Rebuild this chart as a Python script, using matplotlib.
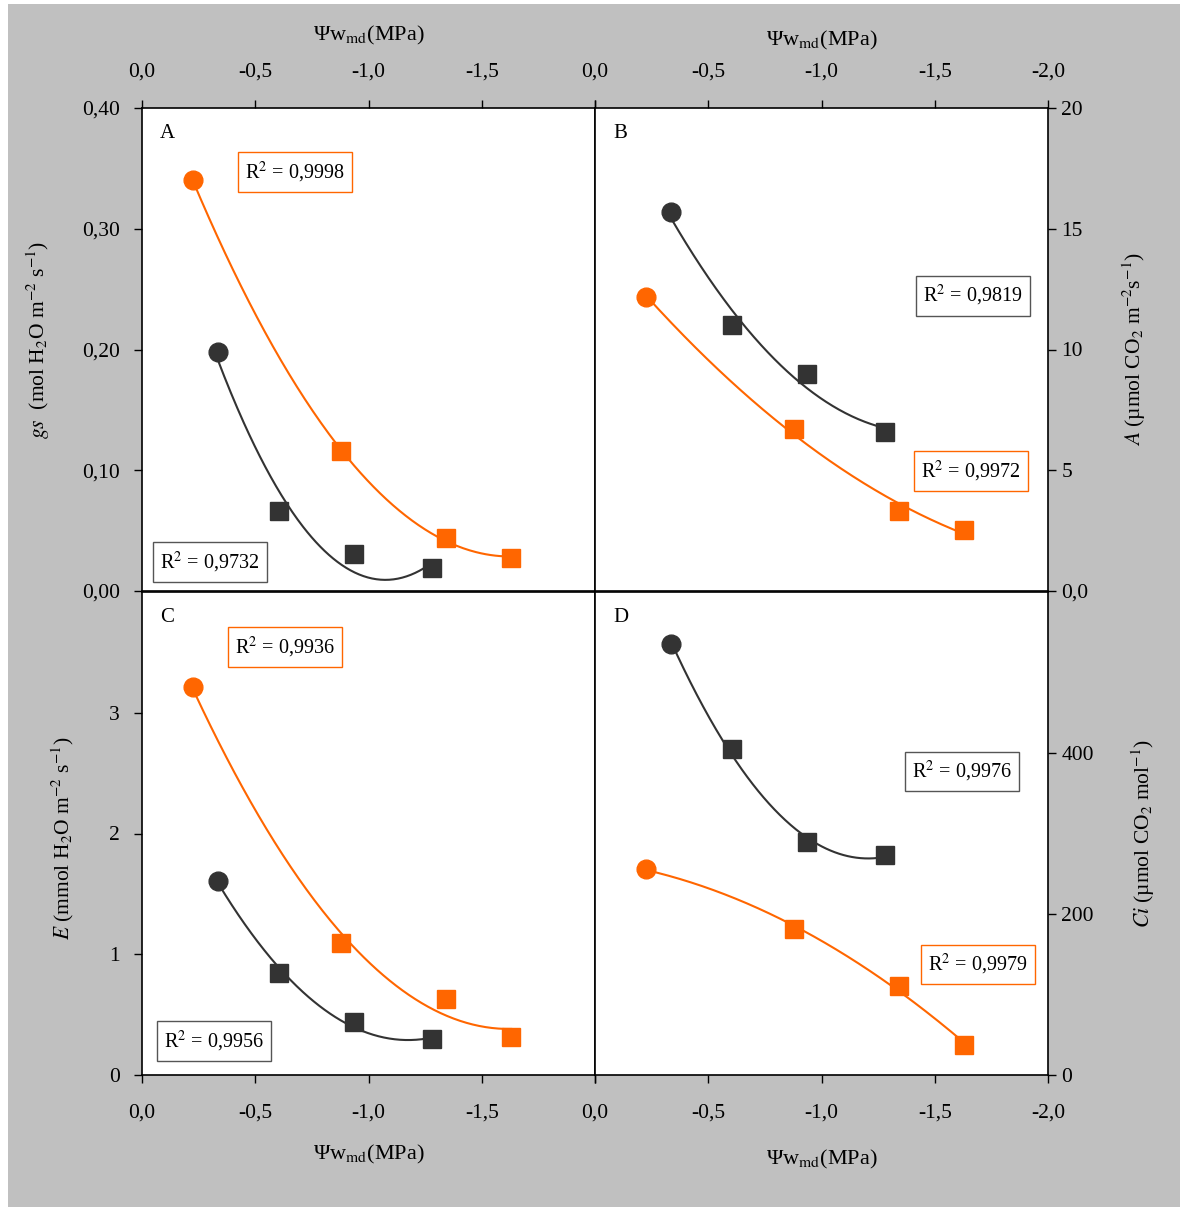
import numpy as np
import matplotlib
matplotlib.use('Agg')
import matplotlib.pyplot as plt
from matplotlib.patches import Rectangle

plt.rcParams['font.family'] = ['Liberation Serif', 'DejaVu Serif']
plt.rcParams['mathtext.fontset'] = 'stix'

# potencial hidrico ao meio-dia (MPa) - ponto circular primeiro, depois quadrados
psi_black = [-0.335, -0.604, -0.934, -1.282]
psi_orange = [-0.225, -0.877, -1.344, -1.630]

gs_black = [0.198, 0.066, 0.0306, 0.019]
gs_orange = [0.340, 0.1157, 0.0438, 0.0273]
A_black = [15.7, 11.0, 8.97, 6.57]
A_orange = [12.19, 6.69, 3.30, 2.52]
E_black = [1.61, 0.843, 0.438, 0.298]
E_orange = [3.215, 1.09, 0.628, 0.314]
Ci_black = [535.8, 405.0, 289.0, 273.0]
Ci_orange = [255.6, 181.5, 110.0, 37.0]

r2_labels = {
    'A': ('0,9998', '0,9732'),
    'B': ('0,9972', '0,9819'),
    'C': ('0,9936', '0,9956'),
    'D': ('0,9979', '0,9976'),
}

x_ticks = [0, -0.5, -1.0, -1.5, -2.0]
x_ticklabels_left = ['0,0', '-0,5', '-1,0', '-1,5', '']
x_ticklabels_right = ['0,0', '-0,5', '-1,0', '-1,5', '-2,0']

ORANGE = '#FF6600'
DARK = '#333333'
FS = 15.5

fig = plt.figure(figsize=(11.83, 12.07), dpi=100, facecolor='white')
fig.patches.append(Rectangle((8 / 1183, 0), 1172 / 1183, 1 - 4 / 1207,
                             transform=fig.transFigure, facecolor='#C0C0C0',
                             edgecolor='none', zorder=-10))

W = 453 / 1183
H = 483 / 1207
x0 = 142 / 1183
x1 = 595 / 1183
y_top = 1 - 591 / 1207
y_bot = 1 - 1075 / 1207

axA = fig.add_axes([x0, y_top, W, H])
axB = fig.add_axes([x1, y_top, W, H])
axC = fig.add_axes([x0, y_bot, W, H])
axD = fig.add_axes([x1, y_bot, W, H])


def fit_line(ax, x, y, color):
    # ajuste polinomial de 2a ordem
    p = np.polyfit(x, y, 2)
    xx = np.linspace(max(x), min(x), 200)
    ax.plot(xx, np.polyval(p, xx), color=color, lw=1.5, zorder=2)


def draw_panel(ax, yb, yo, letter, r2pos):
    fit_line(ax, psi_orange, yo, ORANGE)
    fit_line(ax, psi_black, yb, DARK)
    ax.plot(psi_orange[:1], yo[:1], 'o', color=ORANGE, ms=13.5, zorder=3)
    ax.plot(psi_orange[1:], yo[1:], 's', color=ORANGE, ms=13.5, zorder=3)
    ax.plot(psi_black[:1], yb[:1], 'o', color=DARK, ms=13.5, zorder=3)
    ax.plot(psi_black[1:], yb[1:], 's', color=DARK, ms=13.5, zorder=3)
    ax.set_xlim(0, -2.0)
    ax.set_xticks(x_ticks)
    ax.text(0.04, 0.948, letter, transform=ax.transAxes, fontsize=15,
            ha='left', va='center')
    r2o, r2b = r2_labels[letter]
    (xo, yo_), (xb, yb_) = r2pos
    ax.text(xo, yo_, 'R$^2$ = ' + r2o, transform=ax.transAxes, fontsize=14.5,
            ha='center', va='center',
            bbox=dict(boxstyle='square,pad=0.36', fc='white', ec=ORANGE, lw=1))
    ax.text(xb, yb_, 'R$^2$ = ' + r2b, transform=ax.transAxes, fontsize=14.5,
            ha='center', va='center',
            bbox=dict(boxstyle='square,pad=0.36', fc='white', ec='#555555', lw=1))
    for s in ax.spines.values():
        s.set_linewidth(1.2)
    ax.tick_params(direction='out', length=6, width=1, labelsize=FS)


draw_panel(axA, gs_black, gs_orange, 'A', ((0.338, 0.8675), (0.150, 0.060)))
draw_panel(axB, A_black, A_orange, 'B', ((0.830, 0.248), (0.834, 0.611)))
draw_panel(axC, E_black, E_orange, 'C', ((0.316, 0.886), (0.159, 0.070)))
draw_panel(axD, Ci_black, Ci_orange, 'D', ((0.845, 0.229), (0.810, 0.628)))

xlab = r'Ψw$_{\mathrm{md}}$(MPa)'
XFS = 16

# painel A
axA.set_ylim(0, 0.4)
axA.set_yticks([0, 0.1, 0.2, 0.3, 0.4])
axA.set_yticklabels(['0,00', '0,10', '0,20', '0,30', '0,40'])
axA.xaxis.tick_top()
axA.set_xticklabels(x_ticklabels_left)
axA.tick_params(axis='x', pad=13)
axA.tick_params(axis='y', pad=10)
axA.xaxis.set_label_position('top')
axA.set_xlabel(xlab, fontsize=XFS)
axA.xaxis.set_label_coords(0.5, 1.139)
axA.set_ylabel(r'$gs$  (mol H$_2$O m$^{-2}$ s$^{-1}$)', fontsize=FS)
axA.yaxis.set_label_coords(-0.199, 0.52)

# painel B
axB.set_ylim(0, 20)
axB.set_yticks([0, 5, 10, 15, 20])
axB.set_yticklabels(['0,0', '5', '10', '15', '20'])
axB.yaxis.tick_right()
axB.xaxis.tick_top()
axB.set_xticklabels(x_ticklabels_right)
axB.tick_params(axis='x', pad=13)
axB.xaxis.set_label_position('top')
axB.set_xlabel(xlab, fontsize=XFS)
axB.xaxis.set_label_coords(0.5, 1.129)
axB.yaxis.set_label_position('right')
axB.set_ylabel(r'$A$ (µmol CO$_2$ m$^{-2}$s$^{-1}$)', fontsize=FS)
axB.yaxis.set_label_coords(1.161, 0.5)

# painel C
axC.set_ylim(0, 4)
axC.set_yticks([0, 1, 2, 3])
axC.set_yticklabels(['0', '1', '2', '3'])
axC.set_xticklabels(x_ticklabels_left)
axC.tick_params(axis='x', pad=14.5)
axC.tick_params(axis='y', pad=10)
axC.set_xlabel(xlab, fontsize=XFS)
axC.xaxis.set_label_coords(0.5, -0.140)
axC.set_ylabel(r'$E$ (mmol H$_2$O m$^{-2}$ s$^{-1}$)', fontsize=FS)
axC.yaxis.set_label_coords(-0.146, 0.49)

# painel D
axD.set_ylim(0, 600)
axD.set_yticks([0, 200, 400])
axD.set_yticklabels(['0', '200', '400'])
axD.yaxis.tick_right()
axD.set_xticklabels(x_ticklabels_right)
axD.tick_params(axis='x', pad=14.5)
axD.set_xlabel(xlab, fontsize=XFS)
axD.xaxis.set_label_coords(0.5, -0.151)
axD.yaxis.set_label_position('right')
axD.set_ylabel(r'$Ci$ (µmol CO$_2$ mol$^{-1}$)', fontsize=FS)
axD.yaxis.set_label_coords(1.180, 0.5)

fig.savefig('out.png', dpi=100, facecolor=fig.get_facecolor())
